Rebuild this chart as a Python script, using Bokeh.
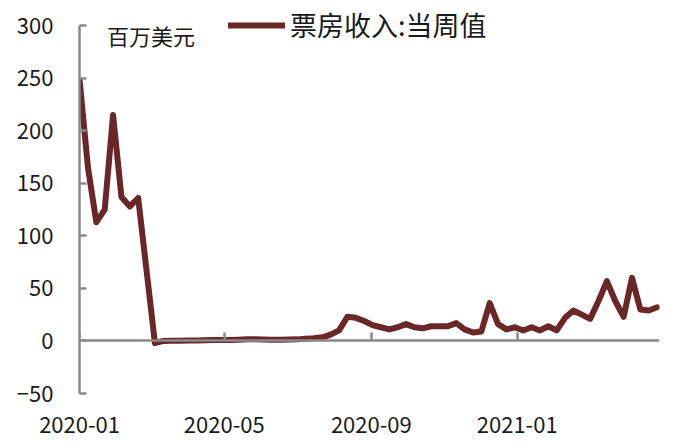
import pandas as pd
from bokeh.plotting import figure
from bokeh.models import (DatetimeAxis, FixedTicker, DatetimeTickFormatter, Legend,
                          LegendItem, Label, Range1d)
from bokeh.embed import file_html
from bokeh.resources import INLINE

# ---- data ----
start_date = "2020-01-01"
n_weeks = 70
box_office = [248, 165, 113, 125, 215, 137, 128, 136, 67, -2,
              0, 0.3, 0.3, 0.5, 0.5, 0.6, 0.8, 1, 1, 1.2,
              1.5, 1.5, 1.3, 1.2, 1.2, 1.3, 1.5, 2, 2.5, 3.5,
              6, 10, 23, 22, 19, 15, 13, 11, 13, 16,
              13, 12, 14, 14, 14, 17, 11, 8, 9, 36,
              16, 11, 13, 10, 13, 10, 14, 10, 22, 29,
              25, 21, 38, 57, 38, 23, 60, 30, 29, 32]
tick_labels = ["2020-01", "2020-05", "2020-09", "2021-01"]
y_ticks = [-50, 0, 50, 100, 150, 200, 250, 300]
series_name = "票房收入:当周值"
unit_text = "百万美元"

dates = pd.date_range(start_date, periods=n_weeks, freq="7D")
tick_ms = [pd.Timestamp(t + "-01").value / 1e6 for t in tick_labels]

FONT = "Noto Sans CJK SC"
GRAY = "#8a8a8a"
RED = "#6b2626"

p = figure(width=670, height=441, output_backend="svg", toolbar_location=None,
           x_axis_type="datetime",
           x_range=Range1d(pd.Timestamp("2020-01-01") - pd.Timedelta(hours=2),
                           pd.Timestamp("2021-04-30")),
           y_range=Range1d(-50, 322),
           min_border_left=79, min_border_right=11, min_border_top=2,
           min_border_bottom=48)
p.outline_line_color = None
p.xgrid.visible = False
p.ygrid.visible = False
p.background_fill_color = "white"

fmt = DatetimeTickFormatter(days="%Y-%m", months="%Y-%m", years="%Y-%m",
                            hours="%Y-%m", minutes="%Y-%m", seconds="%Y-%m",
                            milliseconds="%Y-%m", microseconds="%Y-%m")

# bottom axis: labels only
xa = p.xaxis[0]
xa.ticker = FixedTicker(ticks=tick_ms)
xa.formatter = fmt
xa.axis_line_color = None
xa.major_tick_line_color = None
xa.minor_tick_line_color = None
xa.major_label_text_font = FONT
xa.major_label_text_font_size = "22px"
xa.major_label_text_color = "#1a1a1a"
xa.major_label_standoff = 17

# zero-line axis with inward ticks
za = DatetimeAxis(ticker=FixedTicker(ticks=tick_ms), formatter=fmt, fixed_location=0)
za.axis_line_color = GRAY
za.axis_line_width = 2.5
za.major_tick_line_color = GRAY
za.major_tick_line_width = 2.5
za.major_tick_in = 8
za.major_tick_out = 0
za.minor_tick_line_color = None
za.major_label_text_font_size = "0px"
za.major_label_text_alpha = 0
za.major_label_standoff = 0
p.add_layout(za, "below")

ya = p.yaxis[0]
ya.ticker = FixedTicker(ticks=y_ticks)
ya.bounds = (-50, 300)
ya.axis_line_color = GRAY
ya.axis_line_width = 2.5
ya.major_tick_line_color = GRAY
ya.major_tick_line_width = 2.5
ya.major_tick_in = 7
ya.major_tick_out = 0
ya.minor_tick_line_color = None
ya.major_label_text_font = FONT
ya.major_label_text_font_size = "22px"
ya.major_label_text_color = "#1a1a1a"
ya.major_label_standoff = 26

r = p.line(dates, box_office, line_width=6, color=RED, line_join="round", line_cap="round")

legend = Legend(items=[LegendItem(label=series_name, renderers=[r])],
                location=(149, 349), glyph_width=57, glyph_height=20,
                label_text_font=FONT, label_text_font_size="27px",
                label_text_color="#1a1a1a", label_standoff=5,
                padding=0, margin=0, spacing=0,
                border_line_color=None, background_fill_alpha=0)
p.add_layout(legend, "center")

p.add_layout(Label(x=pd.Timestamp("2020-01-24"), y=291, text=unit_text,
                   text_font=FONT, text_font_size="22px", text_color="#1a1a1a",
                   text_baseline="middle", text_align="left"))

open("out.html", "w").write(file_html(p, INLINE))
